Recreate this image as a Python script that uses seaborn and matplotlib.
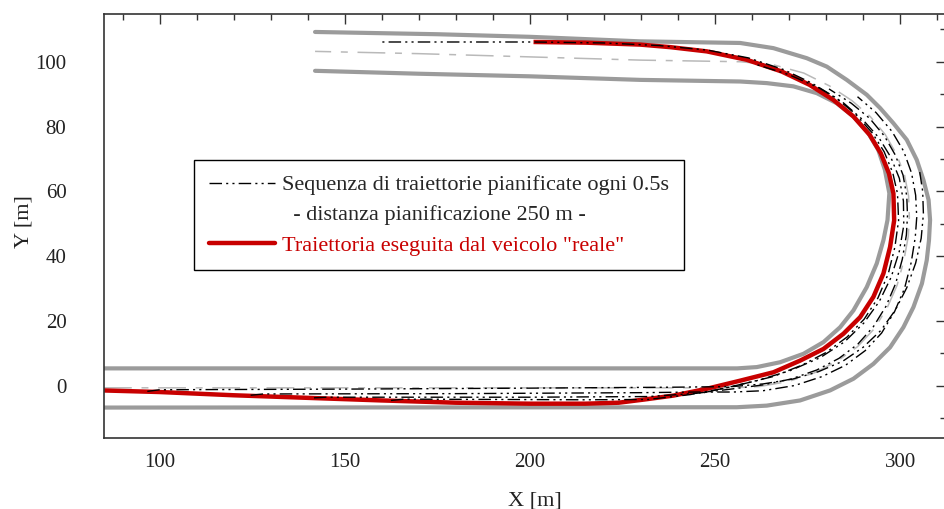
import matplotlib
matplotlib.use("Agg")
import matplotlib.pyplot as plt
import seaborn as sns
from matplotlib.lines import Line2D
from matplotlib.ticker import MultipleLocator

sns.set_style("white")
plt.rcParams['font.family'] = ['Liberation Serif', 'DejaVu Serif']
plt.rcParams['lines.scale_dashes'] = False

# ---- road geometry ----
outer_x = [85, 255.9, 264.0, 273.0, 281.1, 287.4, 292.8, 297.3, 300.9, 303.6, 305.9, 307.2, 307.8, 308.1,
           307.7, 306.3, 304.5, 301.8, 298.2, 294.6, 291.0, 285.6, 280.2, 274.8, 265.8, 256.8, 229.8, 200, 175, 142]
outer_y = [-6.8, -6.7, -6.2, -4.6, -1.5, 2.1, 6.7, 11.8, 18.0, 24.2, 31.5, 38.7, 44.8, 51.1,
           57.3, 63.5, 69.7, 75.9, 81.0, 85.7, 89.8, 94.4, 98.5, 101.1, 104.2, 105.8, 106.3, 107.7, 108.5, 109.2]

inner_x = [85, 256, 261.3, 267.6, 273.9, 279.3, 283.8, 287.4, 291.0, 293.7, 295.5, 296.6, 297.1, 295.9,
           294.1, 291.4, 287.4, 282.9, 277.5, 271.2, 264.0, 256.8, 229.8, 200, 170, 142]
inner_y = [5.3, 5.3, 5.7, 7.2, 9.8, 13.4, 18.0, 23.2, 30.4, 37.7, 44.9, 51.1, 59.4, 66.6,
           72.8, 78.0, 83.1, 87.2, 90.3, 92.4, 93.4, 93.9, 94.4, 95.5, 96.3, 97.2]

center_x = [85, 255, 262, 270, 277, 283, 288.5, 293, 296.5, 299.2, 301, 302.2, 302.5, 302.3, 301.2, 299,
            296, 292, 287, 281, 274, 266, 257, 230, 200, 170, 142]
center_y = [-0.7, -0.7, -0.3, 1.3, 4, 7.5, 12, 17.5, 24, 31, 38.5, 46, 52, 58.5, 65, 71.5,
            77.5, 83, 88, 92.5, 96.5, 99, 100, 100.5, 101.5, 102.5, 103.2]

# ---- executed trajectory (red) ----
real_x = [84.5, 100, 120, 140, 160, 180, 200, 215, 224, 231, 238.8, 247.8, 256.8, 265.8, 273.0, 279.3,
          284.7, 289.2, 292.8, 295.5, 297.3, 298.4, 298.2, 297.0, 294.8, 291.8, 287.4, 282.0, 275.5,
          268.0, 258.6, 247.8, 238, 229.8, 215, 201]
real_y = [-1.5, -2.0, -3.0, -3.8, -4.6, -5.3, -5.6, -5.6, -5.3, -4.3, -3.1, -1.0, 1.5, 4.1, 7.7, 11.3,
          16.0, 21.1, 27.4, 34.6, 42.8, 51.0, 59.3, 65.5, 71.7, 77.4, 83.1, 88.2, 92.9,
          97.0, 100.6, 103.2, 104.5, 105.3, 105.9, 106.1]

# ---- planned trajectories (black dash-dot), every 0.5 s ----
p1_x = [96.7, 100, 150, 200, 240, 255, 263, 271, 278, 284.5, 290, 294.8, 298.7, 301.8, 304.2, 305.7, 306.3, 306.1, 305.3]
p1_y = [-1.8, -1.3, -1.1, -0.8, -0.5, -0.3, 0.5, 2.0, 4.3, 7.5, 11.8, 17, 23.3, 30.2, 37.8, 45.5, 53, 60, 66]

p2_x = [124.6, 128, 180, 230, 245, 255, 263, 271.5, 279, 285.3, 290.6, 295, 298.5, 301.2, 303, 304.1, 304.5,
        304.2, 303.1, 301, 297.8, 293.5, 288.5]
p2_y = [-3.0, -2.6, -2.5, -2.2, -2.0, -2.0, -1.6, 0, 2.8, 6.3, 10.8, 16.2, 22.8, 30, 38, 45.8, 52,
        58.8, 65.6, 72.3, 78.5, 84.3, 89.2]

p3_x = [141.7, 145, 200, 232, 245, 255, 263, 270.5, 277.5, 283.5, 288.6, 292.8, 296.2, 298.8, 300.6, 301.7,
        302, 301.8, 300.8, 298.7, 295.8, 291.8, 286.8, 280.8]
p3_y = [-3.8, -3.6, -3.6, -3.4, -2.4, -1.0, 0.2, 2.0, 4.8, 8.4, 12.8, 18.2, 24.5, 31.5, 39, 46.5,
        52.5, 58.5, 65, 71.2, 77, 82.5, 87.2, 91.6]

p4_x = [162.5, 166, 215, 232, 243.3, 252.3, 261.3, 270.3, 278.4, 285, 290.2, 294.4, 297.6, 299.8, 301, 300.9,
        299.8, 297.5, 294.3, 290, 284.5, 278, 270, 261]
p4_y = [-4.6, -4.2, -4.4, -4.3, -2.8, -0.9, 1.5, 4.6, 8.6, 13.5, 19.3, 26, 33.5, 41.5, 49.5, 57,
        64, 70.5, 76.5, 82, 87.5, 92, 96, 99.2]

p5_x = [247, 256.8, 265.8, 273.5, 280, 285.7, 290.3, 294, 296.8, 298.6, 299.6, 299.3, 298, 295.7, 292.5,
        288, 282.5, 276, 268.5, 259, 248, 235, 220, 201, 180, 159.7]
p5_y = [-2.2, 0.3, 2.8, 6.3, 10.2, 15.0, 20.5, 27, 34.5, 42.8, 51, 59.3, 65.8, 72.2, 78,
        83.8, 89, 93.5, 97.6, 101.2, 103.6, 105, 105.8, 106.1, 106.1, 106.1]

planned = [(p1_x, p1_y), (p2_x, p2_y), (p3_x, p3_y), (p4_x, p4_y), (p5_x, p5_y)]

x_ticks = [100, 150, 200, 250, 300]
y_ticks = [0, 20, 40, 60, 80, 100]

legend_labels = ["Sequenza di traiettorie pianificate ogni 0.5s",
                 "  - distanza pianificazione 250 m -",
                 'Traiettoria eseguita dal veicolo "reale"']

GRAY = "#9b9b9b"
LIGHT = "#b9b9b9"
RED = "#c80000"
DASHDOT = (0, (9, 3, 1.5, 3, 1.5, 3))
CENTER_DASH = (0, (20, 7, 5, 7))

fig = plt.figure(figsize=(9.44, 5.09), dpi=100)
ax = fig.add_axes([104 / 944, 1 - 438 / 509, (946 - 104) / 944, (438 - 13.5) / 509])

for bx, by in [(outer_x, outer_y), (inner_x, inner_y)]:
    sns.lineplot(x=bx, y=by, sort=False, estimator=None, color=GRAY, linewidth=3.0,
                 ax=ax, solid_joinstyle='round')
sns.lineplot(x=center_x, y=center_y, sort=False, estimator=None, color=LIGHT,
             linewidth=1.1, linestyle=CENTER_DASH, ax=ax)
sns.lineplot(x=real_x, y=real_y, sort=False, estimator=None, color=RED, linewidth=3.2,
             ax=ax, solid_joinstyle='round', solid_capstyle='butt')
for px, py in planned:
    sns.lineplot(x=px, y=py, sort=False, estimator=None, color='black', linewidth=1.0,
                 linestyle=DASHDOT, ax=ax)

ax.set_xlim(85, 312.4)
ax.set_ylim(-16.2, 114.9)
ax.set_xticks(x_ticks)
ax.set_yticks(y_ticks)
ax.xaxis.set_minor_locator(MultipleLocator(10))
ax.yaxis.set_minor_locator(MultipleLocator(10))
ax.tick_params(which='both', direction='in', top=True, right=True, colors='#333333',
               labelcolor='#222222', width=1.0)
ax.tick_params(which='major', length=7, labelsize=15)
ax.tick_params(which='minor', length=4.5)
ax.tick_params(axis='x', which='major', pad=11)
ax.tick_params(axis='y', which='major', pad=27)
for s in ax.spines.values():
    s.set_color('#333333')
    s.set_linewidth(1.2)

ax.set_xlabel("X [m]", fontsize=16, labelpad=13.5, color='#222222')
ax.set_ylabel("Y [m]", fontsize=16, labelpad=1, color='#222222')
ax.xaxis.label.set_x(0.512)
ax.yaxis.label.set_y(0.51)

handles = [Line2D([], [], color='black', lw=1.0, linestyle=DASHDOT),
           Line2D([], [], color='none'),
           Line2D([], [], color=RED, lw=3.2)]
leg = ax.legend(handles, legend_labels, loc='upper left', bbox_to_anchor=(90 / 842, 0.6545),
                frameon=True, fancybox=False, edgecolor='black', fontsize=16,
                handlelength=3.0, handletextpad=0.3, borderpad=0.66, labelspacing=0.43,
                borderaxespad=0)
leg.get_frame().set_linewidth(1.0)
leg.get_frame().set_alpha(1)
leg.get_texts()[2].set_color(RED)

fig.savefig("out.png", dpi=100, facecolor='white')
